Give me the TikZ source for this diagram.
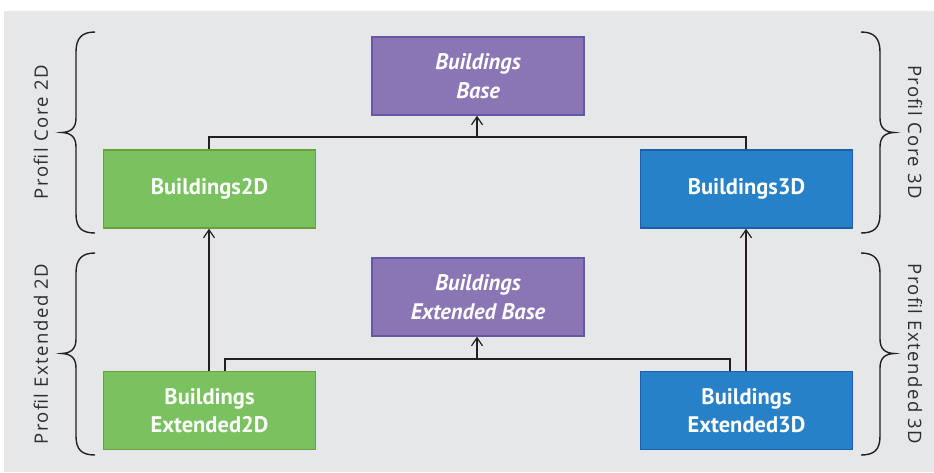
\documentclass[tikz,border=0pt]{standalone}
\usepackage{fontspec}
\setmainfont{PT Sans}
\newfontfamily\sidefont[LetterSpace=8]{Open Sans}
\usetikzlibrary{arrows.meta}
\definecolor{bg}{HTML}{E6E7E9}
\definecolor{pfill}{HTML}{8B76B5}
\definecolor{pdraw}{HTML}{6457A6}
\definecolor{gfill}{HTML}{79C25F}
\definecolor{gdraw}{HTML}{6A9F3A}
\definecolor{bfill}{HTML}{2781C8}
\definecolor{bdraw}{HTML}{1B5EAA}
\definecolor{ink}{HTML}{231F20}
\definecolor{labelc}{HTML}{2E2E30}
\tikzset{
  box/.style={rectangle, line width=1.5pt, minimum width=212pt, minimum height=78pt, inner sep=0pt, align=center, text=white, font=\bfseries\fontsize{22.5}{28.5}\selectfont},
  pbox/.style={box, fill=pfill, draw=pdraw, font=\bfseries\itshape\fontsize{22.5}{28.5}\selectfont},
  gbox/.style={box, fill=gfill, draw=gdraw},
  bbox/.style={box, fill=bfill, draw=bdraw},
  conn/.style={draw=ink, line width=1.4pt},
  arr/.style={conn, -{Straight Barb[length=8pt, width=11pt, line width=1.2pt]}},
  bracestyle/.style={draw=ink, line width=1.4pt},
  side/.style={text=labelc, font=\sidefont\fontsize{18.5}{22}\selectfont, inner sep=0pt}
}
\begin{document}
\begin{tikzpicture}[x=1pt, y=-1pt]
\useasboundingbox (0,0) rectangle (934,472);
\fill[white] (0,0) rectangle (934,472);
\fill[bg] (4,11) rectangle (934,472);

% boxes
\node[pbox] (base) at (478,76) {Buildings\\Base};
\node[gbox] (b2d) at (209.5,189) {Buildings2D};
\node[bbox] (b3d) at (746.5,189) {Buildings3D};
\node[pbox] (ebase) at (478,297) {Buildings\\Extended Base};
\node[gbox] (e2d) at (209.5,410.5) {Buildings\\Extended2D};
\node[bbox] (e3d) at (746.5,410.5) {Buildings\\Extended3D};

% core connectors
\coordinate (j1) at (477,137);
\draw[conn] (b2d.north -| 209,0) |- (j1) -| (b3d.north -| 746,0);
\draw[arr] (j1) -- (j1 |- base.south);

% extended to core
\draw[arr] (e2d.north -| 209,0) -- (b2d.south -| 209,0);
\draw[arr] (e3d.north -| 746,0) -- (b3d.south -| 746,0);

% extended connectors
\coordinate (j2) at (477,359);
\draw[conn] (e2d.north -| 225,0) |- (j2) -| (e3d.north -| 730,0);
\draw[arr] (j2) -- (j2 |- ebase.south);

% braces
\draw[bracestyle] (95,32) .. controls (82,32) and (76,38) .. (76,52) -- (76,118) .. controls (76,128) and (71,132) .. (62,132.5) .. controls (71,133) and (76,137) .. (76,147) -- (76,214) .. controls (76,228) and (82,233) .. (95,233);
\draw[bracestyle] (95,253) .. controls (82,253) and (76,259) .. (76,273) -- (76,339) .. controls (76,349) and (71,353) .. (62,353.5) .. controls (71,354) and (76,358) .. (76,368) -- (76,436) .. controls (76,450) and (82,455) .. (95,455);
\draw[bracestyle] (861,32) .. controls (874,32) and (880,38) .. (880,52) -- (880,118) .. controls (880,128) and (885,132) .. (894,132.5) .. controls (885,133) and (880,137) .. (880,147) -- (880,214) .. controls (880,228) and (874,233) .. (861,233);
\draw[bracestyle] (861,253) .. controls (874,253) and (880,259) .. (880,273) -- (880,339) .. controls (880,349) and (885,353) .. (894,353.5) .. controls (885,354) and (880,358) .. (880,368) -- (880,436) .. controls (880,450) and (874,455) .. (861,455);

% side labels
\node[side, rotate=90] (lc) at (41,132) {Profil Core 2D};
\node[side, rotate=90] (le) at (41,354) {Profil Extended 2D};
\node[side, rotate=-90] (rc) at (915,132) {Profil Core 3D};
\node[side, rotate=-90] (re) at (915,354) {Profil Extended 3D};
\end{tikzpicture}
\end{document}
